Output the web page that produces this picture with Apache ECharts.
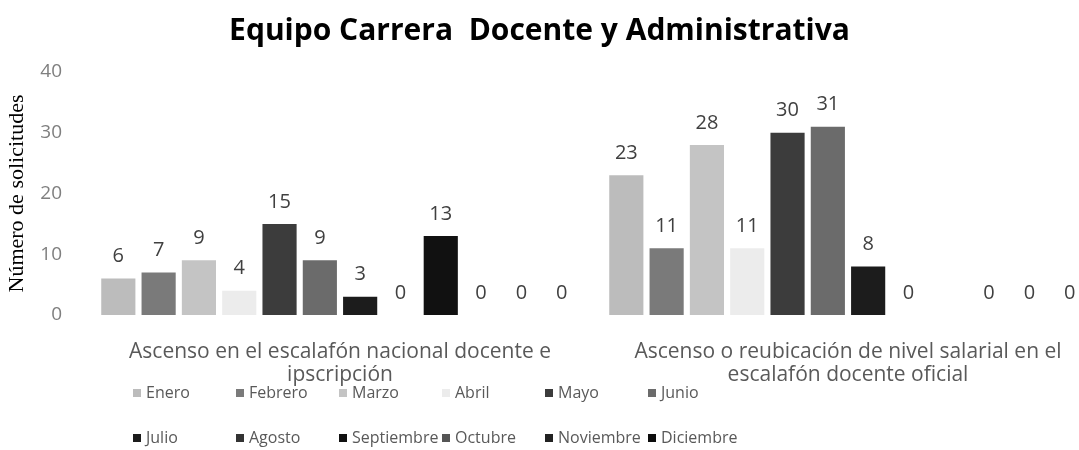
<!DOCTYPE html>
<html>
<head>
<meta charset="utf-8">
<script src="https://cdn.jsdelivr.net/npm/echarts@6/dist/echarts.min.js"></script>
<style>
  html, body { margin: 0; padding: 0; background: #fff; }
  #chart { width: 1079px; height: 450px; }
</style>
</head>
<body>
<div id="chart"></div>
<script>
const categories = [
  'Ascenso en el escalafón nacional docente e\nipscripción',
  'Ascenso o reubicación de nivel salarial en el\nescalafón docente oficial'
]
const months = ['Enero', 'Febrero', 'Marzo', 'Abril', 'Mayo', 'Junio',
  'Julio', 'Agosto', 'Septiembre', 'Octubre', 'Noviembre', 'Diciembre']
// one pair per month: [escalafón nacional, nivel salarial]
const values = [
  [6, 23], [7, 11], [9, 28], [4, 11], [15, 30], [9, 31],
  [3, 8], [0, 0], [13, null], [0, 0], [0, 0], [0, 0]
]
const colors = ['#bcbcbc', '#7a7a7a', '#c4c4c4', '#ececec', '#3c3c3c', '#6b6b6b',
  '#1c1c1c', '#333333', '#111111', '#555555', '#222222', '#0c0c0c']
const yTicks = { min: 0, max: 40, interval: 10 }

const font = '"Open Sans", sans-serif'

const chart = echarts.init(document.getElementById('chart'))

// legend laid out as a 6-column grid, one legend per entry
const legends = months.map((m, i) => ({
  left: 133 + (i % 6) * 103,
  top: i < 6 ? 385 : 430,
  padding: 0,
  itemWidth: 8,
  itemHeight: 8,
  icon: 'rect',
  data: [m],
  textStyle: { fontFamily: font, fontSize: 16, color: '#595959' }
}))

chart.setOption({
  animation: false,
  title: {
    text: 'Equipo Carrera  Docente y Administrativa',
    left: 'center',
    top: 11,
    textStyle: { fontFamily: font, fontSize: 30, fontWeight: 'bold', color: '#000' }
  },
  legend: legends,
  // plot area runs a little past the right edge, as in the cropped original
  grid: { left: 86, right: -23, top: 72, bottom: 135, outerBoundsMode: 'none' },
  xAxis: {
    type: 'category',
    data: categories,
    axisLine: { show: false },
    axisTick: { show: false },
    axisLabel: {
      interval: 0,
      margin: 26,
      fontFamily: font,
      fontSize: 21,
      lineHeight: 23,
      color: '#595959'
    }
  },
  yAxis: {
    type: 'value',
    min: yTicks.min,
    max: yTicks.max,
    interval: yTicks.interval,
    name: 'Número de solicitudes',
    nameLocation: 'middle',
    nameGap: 58,
    nameTextStyle: { fontFamily: '"Liberation Serif", serif', fontSize: 22, color: '#000' },
    splitLine: { show: false },
    axisLine: { show: false },
    axisTick: { show: false },
    axisLabel: { margin: 24, fontFamily: font, fontSize: 19, color: '#7f7f7f' }
  },
  series: months.map((m, i) => ({
    name: m,
    type: 'bar',
    barGap: '18%',
    barCategoryGap: '6%',
    data: values[i],
    itemStyle: { color: colors[i] },
    label: {
      show: true,
      position: 'top',
      distance: 12,
      fontFamily: font,
      fontSize: 20,
      color: '#404040'
    }
  }))
})
</script>
</body>
</html>
